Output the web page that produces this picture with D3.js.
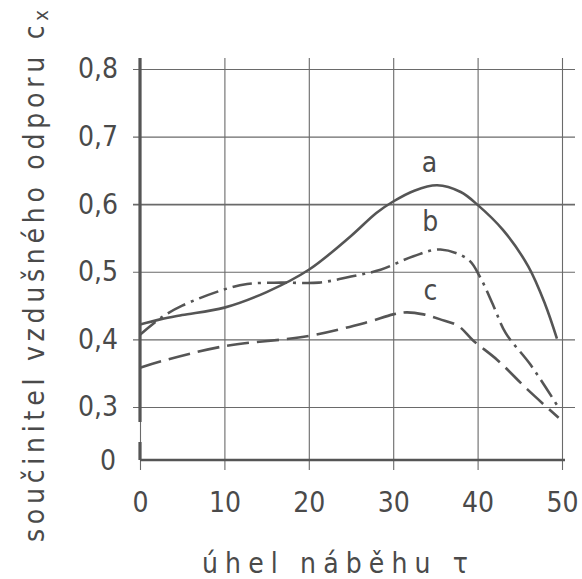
<!DOCTYPE html>
<html lang="cs">
<head>
<meta charset="UTF-8">
<title>Součinitel vzdušného odporu</title>
<script src="https://d3js.org/d3.v7.min.js"></script>
<style>
    body { margin: 0; background: #fff; }
    svg text { font-family: "DejaVu Sans Condensed", "DejaVu Sans", sans-serif; fill: #4a4a4a; }
</style>
</head>
<body>
<svg width="582" height="579"></svg>
<script>
// angle of attack (deg) and drag coefficient
const xA = [0, 2.5, 5, 10, 15, 20, 25, 28, 30, 32.5, 35.2, 38, 40, 43, 46, 48, 49.4];
const yA = [0.422, 0.43, 0.436, 0.447, 0.47, 0.503, 0.553, 0.587, 0.604, 0.62, 0.628, 0.618, 0.599, 0.562, 0.508, 0.452, 0.401];

const xB = [0, 2.6, 5, 10, 12.7, 16.7, 21.2, 25, 28.5, 32.4, 35.6, 38.9, 40.3, 41.9, 43.3, 46.3, 49.4];
const yB = [0.407, 0.433, 0.45, 0.474, 0.482, 0.484, 0.484, 0.493, 0.503, 0.523, 0.533, 0.518, 0.492, 0.449, 0.41, 0.362, 0.303];

const xC = [0, 2.6, 10, 20, 26.8, 30, 31.6, 33.6, 35.5, 37.7, 39.5, 42.3, 45.9, 49.6];
const yC = [0.358, 0.368, 0.39, 0.405, 0.425, 0.437, 0.44, 0.437, 0.43, 0.42, 0.398, 0.37, 0.326, 0.284];

const xTicks = [0, 10, 20, 30, 40, 50];
const yTicks = [0.3, 0.4, 0.5, 0.6, 0.7, 0.8];
const curveNames = ["a", "b", "c"];
const xTitle = "úhel náběhu τ";
const yTitle = "součinitel vzdušného odporu c";

const svg = d3.select("svg");
const ink = "#555";

const x = d3.scaleLinear().domain([0, 50]).range([140, 562]);
const y = d3.scaleLinear().domain([0.3, 0.8]).range([407, 69]);
const zeroY = 460; // broken axis, zero drawn below the gap

const comma = d3.formatLocale({ decimal: ",", thousands: " ", grouping: [3], currency: ["", ""] }).format(".1f");

// horizontal grid + labels
const gy = svg.append("g")
    .attr("transform", "translate(133,0)")
    .call(d3.axisLeft(y).tickValues(yTicks).tickSize(-(575 - 133)).tickPadding(15).tickFormat(comma));
gy.select(".domain").remove();
gy.selectAll(".tick line").attr("stroke", "#6a6a6a").attr("stroke-width", d => d === 0.6 ? 1.8 : 1.1);
gy.selectAll(".tick text").attr("font-size", 28).attr("fill", ink);

// vertical grid + labels
const gx = svg.append("g")
    .attr("transform", "translate(0,470)")
    .call(d3.axisBottom(x).tickValues(xTicks).tickSize(-(470 - 58)).tickFormat(d3.format("d")));
gx.select(".domain").remove();
gx.selectAll(".tick line").attr("stroke", "#6a6a6a").attr("stroke-width", 1.1);
gx.selectAll(".tick text").attr("font-size", 28).attr("fill", ink).attr("y", 42).attr("dy", null);

// y axis with break
svg.append("line").attr("x1", x(0)).attr("x2", x(0)).attr("y1", 58).attr("y2", 422)
    .attr("stroke", ink).attr("stroke-width", 3.2);
svg.append("line").attr("x1", x(0)).attr("x2", x(0)).attr("y1", 442).attr("y2", zeroY)
    .attr("stroke", ink).attr("stroke-width", 3.2);
// zero baseline
svg.append("line").attr("x1", x(0)).attr("x2", 565).attr("y1", zeroY).attr("y2", zeroY)
    .attr("stroke", ink).attr("stroke-width", 2.4);
svg.append("text").attr("x", 116).attr("y", zeroY).attr("dy", "0.36em")
    .attr("text-anchor", "end").attr("font-size", 28).attr("fill", ink).text("0");

// curves
const line = d3.line().x(d => x(d[0])).y(d => y(d[1])).curve(d3.curveCatmullRom.alpha(0.5));
const series = [
    { pts: d3.zip(xA, yA), dash: null },
    { pts: d3.zip(xB, yB), dash: "20,6,3,6" },
    { pts: d3.zip(xC, yC), dash: "22,8" }
];
svg.selectAll("path.curve")
    .data(series)
    .enter()
    .append("path")
    .attr("class", "curve")
    .attr("d", d => line(d.pts))
    .attr("fill", "none")
    .attr("stroke", ink)
    .attr("stroke-width", 2.6)
    .attr("stroke-dasharray", d => d.dash);

// curve names
const nameAt = [[34.3, 0.648], [34.4, 0.56], [34.4, 0.458]];
svg.selectAll("text.name")
    .data(curveNames)
    .enter()
    .append("text")
    .attr("class", "name")
    .attr("x", (d, i) => x(nameAt[i][0]))
    .attr("y", (d, i) => y(nameAt[i][1]))
    .attr("text-anchor", "middle")
    .attr("font-size", 28)
    .attr("fill", ink)
    .text(d => d);

// axis titles
svg.append("text")
    .attr("x", 335).attr("y", 573)
    .attr("text-anchor", "middle")
    .attr("font-size", 28)
    .attr("textLength", 266).attr("lengthAdjust", "spacing")
    .attr("fill", ink)
    .text(xTitle);

const yt = svg.append("text")
    .attr("transform", "translate(44,276) rotate(-90)")
    .attr("text-anchor", "middle")
    .attr("font-size", 28)
    .attr("textLength", 532).attr("lengthAdjust", "spacing")
    .attr("fill", ink);
yt.append("tspan").text(yTitle);
yt.append("tspan").attr("font-size", 20).attr("dy", 4).text("x");
</script>
</body>
</html>
